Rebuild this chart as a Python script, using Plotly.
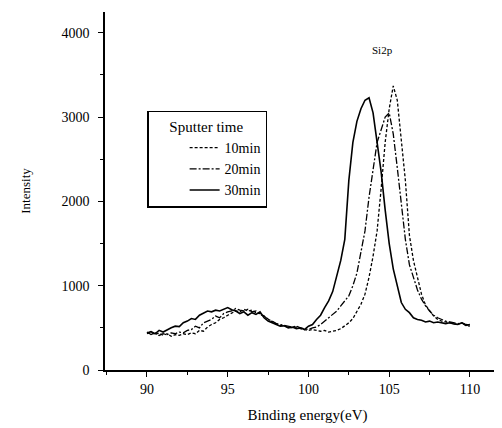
import plotly.graph_objects as go

energy = [90 + 0.25 * i for i in range(81)]

int_10min = [430, 450, 420, 440, 410, 430, 400, 420, 410, 430, 420, 440, 430, 470, 460, 510,
             540, 560, 600, 620, 650, 680, 700, 690, 720, 700, 710, 680, 670, 640, 600, 570,
             550, 530, 520, 510, 500, 510, 490, 480, 470, 480, 470, 460, 470, 450, 460, 470,
             490, 520, 560, 610, 690, 780, 900, 1100, 1350, 1650, 2150, 2700, 3100, 3370,
             3200, 2750, 2250, 1600, 1300, 1100, 900, 770, 700, 640, 600, 580, 570, 560,
             550, 540, 560, 530, 520]

int_20min = [450, 420, 440, 410, 430, 420, 440, 430, 450, 440, 470, 480, 520, 500, 560, 580,
             600, 640, 620, 670, 690, 700, 730, 710, 700, 720, 690, 700, 660, 640, 600, 580,
             550, 540, 530, 520, 510, 520, 500, 490, 480, 500, 510, 540, 580, 620, 660, 700,
             760, 820, 880, 1000, 1150, 1400, 1650, 2050, 2400, 2700, 2850, 3000, 3050, 2800,
             2400, 1950, 1550, 1250, 1100, 950, 840, 760, 700, 650, 620, 600, 580, 570,
             560, 550, 560, 540, 530]

int_30min = [440, 455, 430, 470, 450, 480, 500, 520, 515, 560, 580, 610, 600, 650, 680, 700,
             690, 710, 700, 720, 740, 715, 700, 670, 690, 650, 680, 660, 690, 620, 580, 560,
             540, 520, 525, 500, 510, 490, 500, 480, 520, 540, 600, 650, 740, 820, 930, 1100,
             1300, 1550, 2250, 2700, 2950, 3100, 3200, 3230, 3050, 2700, 2350, 1900, 1500, 1200,
             980, 800, 720, 680, 620, 600, 590, 570, 580, 560, 570, 560, 550, 560,
             545, 540, 560, 530, 540]

series = [("10min", int_10min, "3px,2px", 1.3),
          ("20min", int_20min, "7px,2px,2px,2px", 1.3),
          ("30min", int_30min, "solid", 1.6)]

fig = go.Figure()
for name, vals, dash, w in series:
    fig.add_trace(go.Scatter(x=energy, y=vals, mode="lines", name=name,
                             line=dict(color="black", width=w, dash=dash)))

font_family = "Liberation Serif"
nb = "\u00a0"
fig.update_layout(
    width=502, height=428,
    margin=dict(l=97, r=0, t=4, b=66),
    paper_bgcolor="white", plot_bgcolor="white",
    font=dict(family=font_family, color="black", size=14),
    showlegend=True,
    legend=dict(
        x=0.104, y=0.7235, xanchor="left", yanchor="top",
        bordercolor="black", borderwidth=1.5, bgcolor="white",
        title=dict(text=nb * 5 + "Sputter time" + nb * 4, side="top",
                   font=dict(family=font_family, size=15, color="black")),
        font=dict(family=font_family, size=14, color="black"),
        indentation=36, itemwidth=30, tracegroupgap=0,
    ),
    xaxis=dict(
        range=[87.4, 112.48], showgrid=False, zeroline=False, automargin=False,
        showline=True, linecolor="black", linewidth=1.5,
        ticks="outside", ticklen=5, tickwidth=1.2, tickcolor="black",
        tickmode="linear", tick0=90, dtick=5,
        minor=dict(ticks="outside", ticklen=3, tick0=90, dtick=2.5, tickcolor="black", showgrid=False),
        tickfont=dict(family=font_family, size=14),
        title=dict(text="Binding energy(eV)", font=dict(family=font_family, size=15), standoff=14),
    ),
    yaxis=dict(
        range=[0, 4247], showgrid=False, zeroline=False, automargin=False,
        showline=True, linecolor="black", linewidth=1.5,
        ticks="outside", ticklen=5, tickwidth=1.2, tickcolor="black",
        tickmode="linear", tick0=0, dtick=1000, ticklabelstandoff=6,
        minor=dict(ticks="outside", ticklen=3, tick0=0, dtick=500, tickcolor="black", showgrid=False),
        tickfont=dict(family=font_family, size=14),
        title=dict(text="Intensity", font=dict(family=font_family, size=13), standoff=28),
    ),
    annotations=[dict(x=104.6, y=3800, xref="x", yref="y", text="Si2p", showarrow=False,
                      font=dict(family=font_family, size=11, color="black"))],
)

fig.write_html("out.html")
